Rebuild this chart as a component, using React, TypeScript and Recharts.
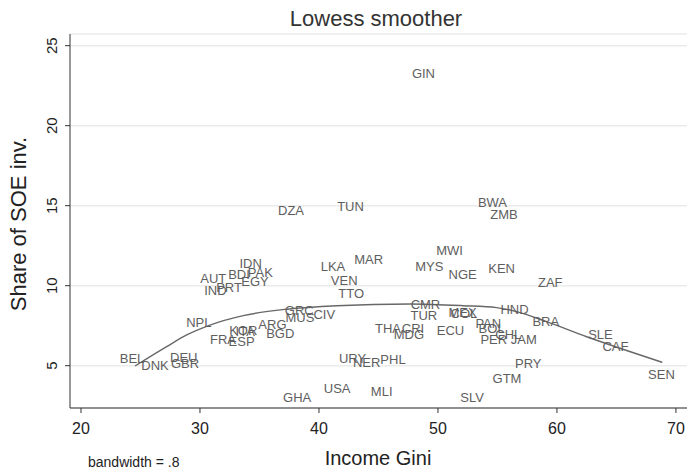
import { ComposedChart, Scatter, Line, XAxis, YAxis, CartesianGrid } from 'recharts';

// country codes, income gini (x) and share of SOE investment (y)
const codes = [
  'GIN', 'DZA', 'TUN', 'BWA', 'ZMB', 'MWI', 'IDN', 'MAR', 'LKA', 'MYS',
  'KEN', 'BDI', 'PAK', 'NGE', 'AUT', 'EGY', 'VEN', 'ZAF', 'PRT', 'IND',
  'TTO', 'CMR', 'HND', 'GRC', 'MEX', 'COL', 'CIV', 'TUR', 'MUS', 'BRA',
  'NPL', 'PAN', 'ARG', 'THA', 'CRI', 'BOL', 'ECU', 'KOR', 'ITA', 'BGD',
  'SLE', 'MDG', 'CHL', 'FRA', 'ESP', 'PER', 'JAM', 'CAF', 'DEU', 'URY',
  'BEL', 'PHL', 'NER', 'PRY', 'GBR', 'DNK', 'SEN', 'GTM', 'USA', 'MLI',
  'GHA', 'SLV',
];
const gini = [
  48.78, 37.65, 42.65, 54.58, 55.55, 50.97, 34.26, 44.18, 41.18, 49.27,
  55.35, 33.28, 35.07, 52.08, 31.12, 34.62, 42.12, 59.44, 32.44, 31.3,
  42.71, 48.95, 56.43, 38.34, 52.06, 52.18, 40.45, 48.81, 38.4, 59.06,
  29.9, 54.23, 36.09, 45.8, 47.9, 54.51, 51.05, 33.64, 33.8, 36.75,
  63.66, 47.56, 55.91, 31.93, 33.5, 54.69, 57.21, 64.92, 28.64, 42.82,
  24.29, 46.22, 44.01, 57.59, 28.74, 26.22, 68.78, 55.8, 41.53, 45.27,
  38.17, 52.87,
];
const soeShare = [
  23.26, 14.7, 14.98, 15.23, 14.42, 12.23, 11.4, 11.61, 11.19, 11.19,
  11.09, 10.71, 10.84, 10.71, 10.42, 10.25, 10.31, 10.21, 9.88, 9.67,
  9.53, 8.84, 8.54, 8.48, 8.31, 8.29, 8.23, 8.11, 8.03, 7.75,
  7.69, 7.65, 7.59, 7.34, 7.34, 7.34, 7.19, 7.19, 7.12, 7.03,
  6.98, 6.92, 6.92, 6.65, 6.5, 6.65, 6.65, 6.19, 5.53, 5.46,
  5.42, 5.36, 5.19, 5.15, 5.11, 5.0, 4.42, 4.21, 3.59, 3.38,
  3.03, 3.0,
];

// lowess fit
const lowessX = [24.54, 27.2, 28.88, 30.84, 33.64, 37.29, 41.49, 47.65, 52.13, 54.93, 56.61, 59.13, 62.5, 65.29, 68.85];
const lowessY = [4.98, 6.19, 6.92, 7.54, 8.13, 8.53, 8.75, 8.86, 8.75, 8.63, 8.38, 7.75, 6.81, 6.09, 5.21];

const xTicks = [20, 30, 40, 50, 60, 70];
const yTicks = [5, 10, 15, 20, 25];

const points = codes.map((code, i) => ({ code, x: gini[i], y: soeShare[i] }));
const lowess = lowessX.map((x, i) => ({ x, fit: lowessY[i] }));

const FONT = '"Liberation Sans", Arial, sans-serif';

function CodeLabel(props: any) {
  const { cx, cy, payload } = props;
  return (
    <text x={cx} y={cy} textAnchor="middle" dominantBaseline="central" fontSize={13} fill="#5e5e5e" fontFamily={FONT}>
      {payload.code}
    </text>
  );
}

function XTick(props: any) {
  const { x, payload } = props;
  return (
    <text x={x} y={434} textAnchor="middle" fontSize={16} fill="#222" fontFamily={FONT}>
      {payload.value}
    </text>
  );
}

function YTick(props: any) {
  const { y, payload } = props;
  return (
    <text x={57} y={y} transform={`rotate(-90, 57, ${y})`} textAnchor="middle" fontSize={15} fill="#222" fontFamily={FONT}>
      {payload.value}
    </text>
  );
}

export default function App() {
  return (
    <div style={{ position: 'absolute', left: 0, top: 0, width: 687, height: 473, background: '#fff' }}>
      <ComposedChart width={687} height={473} margin={{ top: 34, right: 0, bottom: 0, left: 0 }}>
        <CartesianGrid vertical={false} stroke="#ebebeb" strokeWidth={1.5} />
        <XAxis
          type="number"
          dataKey="x"
          domain={[19.076, 70.93]}
          allowDataOverflow
          ticks={xTicks}
          height={65}
          tickSize={5}
          stroke="#333"
          tick={<XTick />}
        />
        <YAxis
          type="number"
          domain={[2.356, 25.73]}
          allowDataOverflow
          ticks={yTicks}
          width={70}
          tickSize={5}
          stroke="#333"
          tick={<YTick />}
        />
        <Line data={lowess} dataKey="fit" type="monotone" stroke="#686868" strokeWidth={1.4} dot={false} activeDot={false} isAnimationActive={false} />
        <Scatter data={points} dataKey="y" shape={<CodeLabel />} isAnimationActive={false} />
      </ComposedChart>
      <svg width={687} height={473} style={{ position: 'absolute', left: 0, top: 0, pointerEvents: 'none' }}>
        <text x={376} y={26} textAnchor="middle" fontSize={22} fill="#333" fontFamily={FONT}>Lowess smoother</text>
        <text x={378} y={465} textAnchor="middle" fontSize={20} fill="#222" fontFamily={FONT}>Income Gini</text>
        <text x={88} y={467} fontSize={14} fill="#222" fontFamily={FONT}>bandwidth = .8</text>
        <text x={26} y={224} transform="rotate(-90, 26, 224)" textAnchor="middle" fontSize={22} fill="#222" fontFamily={FONT}>Share of SOE inv.</text>
      </svg>
    </div>
  );
}
